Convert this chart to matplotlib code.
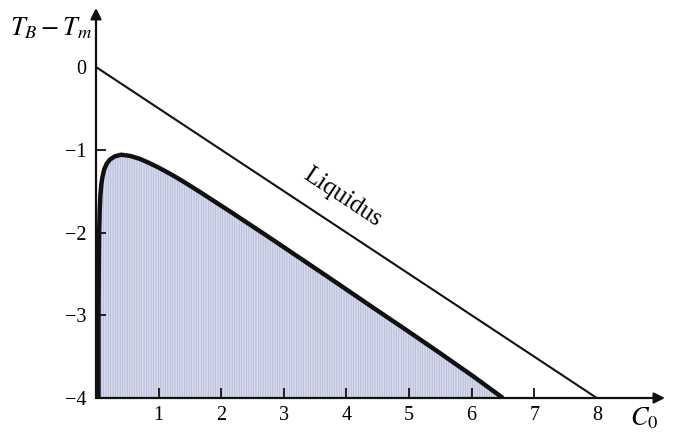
import matplotlib
matplotlib.use('Agg')
import matplotlib.pyplot as plt

plt.rcParams['font.family'] = ['Liberation Serif', 'DejaVu Serif']
plt.rcParams['mathtext.fontset'] = 'stix'
plt.rcParams['hatch.linewidth'] = 0.5

# liquidus line
liq_c = [0, 8]
liq_t = [0, -4]

# stability boundary
curve_c = [0.04, 0.04, 0.045, 0.05, 0.06, 0.07, 0.085, 0.1, 0.13, 0.17, 0.22, 0.3, 0.4,
           0.55, 0.7, 0.85, 1.0, 1.23, 1.45, 1.66, 2.19, 2.73, 3.26, 3.79, 4.43,
           4.96, 5.5, 6.03, 6.5]
curve_t = [-4.0, -3.0, -2.4, -2.0, -1.72, -1.55, -1.42, -1.34, -1.24, -1.17, -1.12, -1.08, -1.06,
           -1.075, -1.11, -1.16, -1.215, -1.31, -1.41, -1.51, -1.77, -2.04, -2.31, -2.58, -2.91,
           -3.18, -3.46, -3.74, -4.0]

xticks = [1, 2, 3, 4, 5, 6, 7, 8]
yticks = [0, -1, -2, -3, -4]

fig = plt.figure(figsize=(6.74, 4.38), dpi=100)
ax = fig.add_axes([96/674, 40/438, 569/674, 390/438])
ax.set_xlim(0, 569/62.6)
ax.set_ylim(-4, -4 + 390/82.75)

ax.fill_between(curve_c, curve_t, -4, facecolor='#d6daec', edgecolor='#afb5d4',
                hatch='|||||||', linewidth=0)
ax.plot(curve_c, curve_t, color='#111111', lw=3.2, solid_capstyle='butt',
        solid_joinstyle='round')
ax.plot(liq_c, liq_t, color='#111111', lw=1.5)

for s in ['top', 'right', 'left', 'bottom']:
    ax.spines[s].set_visible(False)

# axes with arrowheads
ax.annotate('', xy=(1.0, 0), xytext=(0, 0), xycoords='axes fraction',
            arrowprops=dict(arrowstyle='-|>', color='#111111', lw=1.6,
                            mutation_scale=16, shrinkA=0, shrinkB=0))
ax.annotate('', xy=(0, 1.0), xytext=(0, 0), xycoords='axes fraction',
            arrowprops=dict(arrowstyle='-|>', color='#111111', lw=1.6,
                            mutation_scale=16, shrinkA=0, shrinkB=0))

ax.set_xticks(xticks)
ax.set_xticklabels([str(v) for v in xticks])
ax.set_yticks(yticks)
ax.set_yticklabels(['0', '\u22121', '\u22122', '\u22123', '\u22124'])
ax.tick_params(axis='both', direction='in', length=7, width=1.3, labelsize=14.5,
               color='#111111')
ax.tick_params(axis='x', pad=6)
ax.tick_params(axis='y', pad=7)
ax.xaxis.get_major_ticks()[-1].tick1line.set_visible(False)
ax.yaxis.get_major_ticks()[0].tick1line.set_visible(False)
ax.yaxis.get_major_ticks()[-1].tick1line.set_visible(False)

ax.text(3.93, -1.58, 'Liquidus', rotation=-33.5, fontsize=18, ha='center',
        va='center', rotation_mode='anchor')
fig.text(10/674, 1 - 28/438, r'$T_B - T_m$', fontsize=19, ha='left', va='center')
fig.text(630/674, 1 - 418/438, r'$C_0$', fontsize=19, ha='left', va='center')

fig.savefig('out.png', dpi=100)
